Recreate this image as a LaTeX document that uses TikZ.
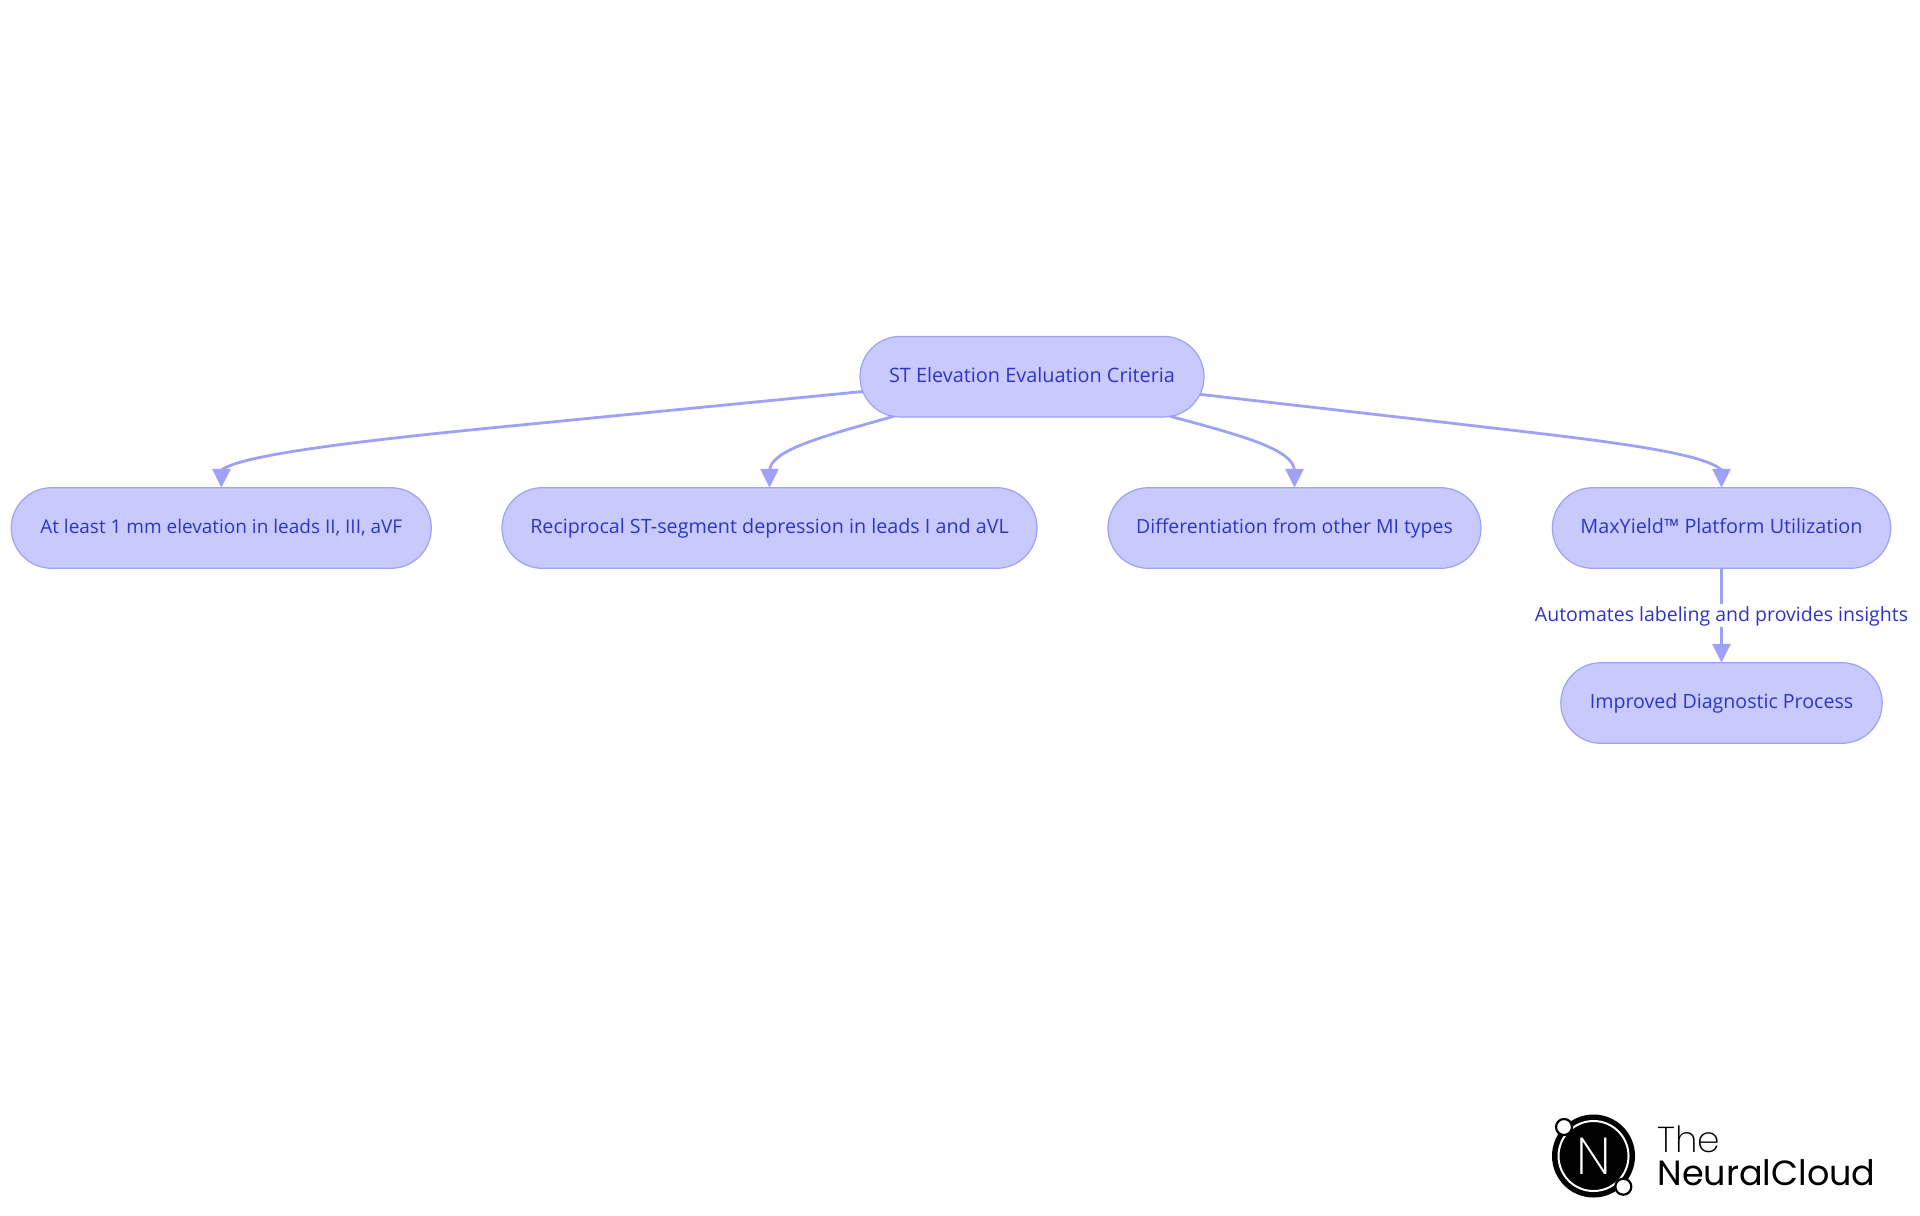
\documentclass[tikz,border=0pt]{standalone}
\usepackage{fontspec}
\setmainfont{Open Sans}
\newfontfamily\logothin{Poppins ExtraLight}
\newfontfamily\logoreg{Poppins}
\usetikzlibrary{shapes.misc,arrows.meta}
\definecolor{nfill}{HTML}{C8CAFD}
\definecolor{nline}{HTML}{9EA1F5}
\definecolor{ntext}{HTML}{3034C6}
\newcommand{\fs}[1]{\fontsize{#1}{12}\selectfont}
\tikzset{
  box/.style={rounded rectangle,draw=nline,fill=nfill,line width=0.6pt,text=ntext,outer sep=0pt,
    minimum height=40.3pt,inner sep=0pt,text height=7.75pt,text depth=2.25pt},
  edge/.style={draw=nline,line width=1.4pt,-{Triangle[length=9.4pt,width=9pt,fill=nline]}},
  edgelabel/.style={fill=white,text=ntext,inner xsep=0pt,inner ysep=0.6pt,text height=8.2pt,text depth=2pt,font=\fs{9.75}},
  logotext/.style={anchor=base west,inner sep=0pt,text=black},
  logodot/.style={circle,draw=black,fill=white,line width=1.1pt,minimum size=8pt,inner sep=0pt},
}
\begin{document}
\begin{tikzpicture}[x=0.5pt,y=-0.5pt]
\useasboundingbox (0,0) rectangle (1920,1215);
\node[box,minimum width=172pt,font=\fs{9.93}] (root) at (1032,376.7) {ST Elevation Evaluation Criteria};
\node[box,minimum width=210pt,font=\fs{9.49}] (n1) at (221.3,528) {At least 1 mm elevation in leads II, III, aVF};
\node[box,minimum width=267.5pt,font=\fs{9.86}] (n2) at (769.5,528) {Reciprocal ST-segment depression in leads I and aVL};
\node[box,minimum width=186.5pt,font=\fs{9.71}] (n3) at (1294.5,528) {Differentiation from other MI types};
\node[box,minimum width=169.2pt,font=\fs{9.9}] (n4) at (1721.5,528) {MaxYield™ Platform Utilization};
\node[box,minimum width=160.7pt,font=\fs{9.8}] (n5) at (1721.5,703) {Improved Diagnostic Process};

\draw[edge] (root.185.1) -- (480,429) .. controls (340,443) and (240,456) .. (221.5,470) -- (n1.north);
\draw[edge] (root.196) .. controls (820,437) and (772,450) .. (769.5,470) -- (n2.north);
\draw[edge] (root.344) .. controls (1248,437) and (1292,450) .. (1294.5,470) -- (n3.north);
\draw[edge] (root.354.2) -- (1450,423) .. controls (1577,438) and (1700,450) .. (1721.5,470) -- (n4.north);
\draw[edge] (n4.south) -- node[edgelabel] {Automates labeling and provides insights} (n5.north);

% logo
\node[circle,fill=black,draw=none,minimum size=41.5pt,inner sep=0pt] (logo) at (1593.5,1156) {};
\node[circle,draw=white,line width=1pt,minimum size=35pt,inner sep=0pt,text=white] (logoring) at (1593.5,1156) {\logothin\fontsize{26}{26}\selectfont N};
\node[logodot] (dota) at (1564,1127) {};
\node[logodot] (dotb) at (1623.3,1186.7) {};
\node[logotext] (the) at (1657,1152.3) {\logothin\fontsize{18}{18}\selectfont The};
\node[logotext] (neural) at (1657,1185) {\logoreg\fontsize{17.5}{18}\selectfont NeuralCloud};
\end{tikzpicture}
\end{document}
